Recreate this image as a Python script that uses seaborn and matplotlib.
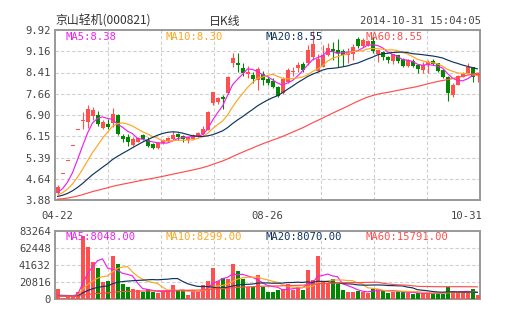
import numpy as np
import pandas as pd
import matplotlib
matplotlib.use("Agg")
import matplotlib.pyplot as plt
import seaborn as sns
from matplotlib.transforms import blended_transform_factory

# ---------------- data ----------------
open_ = [4.12, 4.79, 5.27, 5.79, 6.37, 6.70, 6.66, 6.88, 6.90, 6.45,
         6.58, 6.60, 6.89, 6.15, 6.11, 5.84, 5.95, 6.19, 6.02, 5.86,
         5.72, 5.92, 5.99, 6.04, 6.22, 6.15, 6.01, 6.05, 6.13, 6.22,
         6.37, 7.31, 7.35, 7.55, 7.69, 8.74, 8.76, 8.58, 8.36, 8.32,
         8.14, 8.35, 8.17, 8.12, 7.88, 7.67, 8.08, 8.42, 8.56, 8.72,
         8.74, 8.97, 8.48, 8.62, 9.03, 9.24, 9.21, 9.17, 9.03, 9.07,
         9.59, 9.35, 9.39, 9.54, 9.07, 9.15, 8.97, 8.83, 9.03, 8.89,
         8.64, 8.83, 8.68, 8.50, 8.68, 8.82, 8.74, 8.50, 8.26, 7.61,
         7.97, 8.26, 8.40, 8.59, 8.30]
high = [4.40, 4.79, 5.27, 5.79, 6.37, 7.01, 7.27, 7.20, 7.04, 6.72,
        6.75, 7.15, 6.92, 6.22, 6.21, 6.11, 6.12, 6.22, 6.12, 5.90,
        5.95, 6.05, 6.12, 6.34, 6.27, 6.18, 6.13, 6.22, 6.30, 6.51,
        7.04, 7.73, 7.55, 7.62, 8.28, 9.09, 9.09, 8.74, 8.64, 8.44,
        8.62, 8.46, 8.26, 8.20, 7.92, 8.26, 8.56, 8.60, 8.80, 8.80,
        9.39, 9.90, 9.08, 9.39, 9.45, 9.50, 9.60, 9.25, 9.27, 9.42,
        9.68, 9.62, 9.58, 9.68, 9.21, 9.16, 8.98, 9.08, 9.04, 8.92,
        8.88, 8.90, 8.70, 8.80, 8.86, 8.88, 8.76, 8.52, 8.28, 8.02,
        8.33, 8.42, 8.74, 8.60, 8.42]
low = [4.10, 4.79, 5.27, 5.79, 6.37, 6.40, 6.45, 6.72, 6.51, 6.40,
       6.40, 6.47, 6.20, 5.95, 5.80, 5.80, 5.93, 6.01, 5.78, 5.68,
       5.68, 5.88, 5.95, 6.02, 6.01, 5.95, 5.92, 6.02, 6.10, 6.20,
       6.35, 7.26, 7.30, 7.10, 7.66, 8.62, 8.44, 8.30, 8.20, 8.03,
       7.79, 7.97, 7.97, 7.85, 7.55, 7.65, 8.02, 8.28, 8.44, 8.44,
       8.68, 8.85, 8.44, 8.60, 9.00, 8.85, 8.62, 8.64, 8.76, 8.85,
       9.27, 9.33, 9.36, 9.09, 8.80, 8.85, 8.74, 8.71, 8.74, 8.60,
       8.62, 8.60, 8.38, 8.40, 8.38, 8.66, 8.44, 8.22, 7.41, 7.55,
       7.95, 8.24, 8.38, 8.08, 8.08]
close = [4.35, 4.79, 5.27, 5.79, 6.37, 6.74, 7.11, 7.08, 6.58, 6.66,
         6.47, 6.93, 6.22, 6.05, 5.95, 6.04, 6.09, 6.06, 5.81, 5.73,
         5.89, 6.01, 6.09, 6.19, 6.13, 6.05, 6.11, 6.19, 6.25, 6.39,
         7.02, 7.70, 7.52, 7.47, 8.26, 8.91, 8.68, 8.40, 8.43, 8.17,
         8.52, 8.14, 8.05, 7.88, 7.59, 8.17, 8.50, 8.48, 8.68, 8.50,
         9.21, 9.42, 8.88, 9.03, 9.27, 9.16, 9.09, 9.03, 9.11, 9.33,
         9.35, 9.56, 9.54, 9.19, 9.21, 8.95, 8.85, 9.07, 8.83, 8.64,
         8.85, 8.64, 8.55, 8.66, 8.78, 8.72, 8.46, 8.24, 7.67, 7.97,
         8.29, 8.40, 8.59, 8.26, 8.36]
volume = [12000, 1500, 2000, 2000, 9000, 77000, 63000, 45600, 38400, 20800,
          21600, 52900, 43200, 18000, 14400, 12000, 10800, 8800, 12800, 8000,
          6800, 9600, 8000, 16800, 10000, 10000, 4800, 10000, 8000, 16800,
          22000, 38400, 22000, 25200, 24000, 43200, 33600, 24800, 15200, 15200,
          28800, 15200, 8000, 8800, 11200, 12800, 18000, 11200, 15200, 11200,
          35200, 23200, 52900, 20800, 20000, 24000, 18000, 11200, 8800, 8800,
          10000, 8800, 7200, 12800, 12800, 9800, 7000, 9000, 9800, 8200,
          7000, 5800, 7000, 7000, 8000, 6100, 6100, 6100, 15000, 9500,
          7200, 7200, 7600, 12800, 5400]

# closes / volumes before the first shown day (needed by the moving averages)
prior_close = [3.86, 3.85, 3.87, 3.88, 3.86, 3.84, 3.85, 3.87, 3.88, 3.86,
               3.85, 3.84, 3.86, 3.87, 3.88, 3.86, 3.85, 3.86, 3.87, 3.85,
               3.84, 3.86, 3.88, 3.87, 3.86, 3.85, 3.87, 3.86, 3.85, 3.86,
               3.87, 3.88, 3.86, 3.85, 3.86, 3.87, 3.86, 3.85, 3.87, 3.86,
               3.93, 3.95, 3.94, 3.96, 3.97, 3.95, 3.96, 3.98, 3.97, 3.96,
               3.95, 3.97, 3.98, 3.96, 3.97, 4.08, 4.12, 4.10, 4.05]
prior_volume = [3200, 2900, 3100, 3000, 2800, 3300, 3100, 2900, 3000, 3200,
                2800, 3100, 3000, 2900, 3200, 3100, 3000, 2800, 3100, 3000,
                2900, 3200, 3100, 3000, 2800, 3000, 3100, 2900, 3000, 3200,
                3100, 2900, 3000, 3100, 2800, 3000, 3200, 3100, 2900, 3000,
                3100, 3000, 2900, 3200, 3100, 3000, 2800, 3100, 3000, 2900,
                3200, 3100, 3000, 2900, 3100, 3000, 3200, 2900, 3000]

ma_windows = [5, 10, 20, 60]
ma_colors = ["#F020F0", "#FFA520", "#0F3460", "#FF4D4D"]
price_ma_last = [8.38, 8.30, 8.55, 8.55]
volume_ma_last = [8048.00, 8299.00, 8070.00, 15791.00]

price_ticks = [3.88, 4.64, 5.39, 6.15, 6.90, 7.66, 8.41, 9.16, 9.92]
volume_ticks = [0, 20816, 41632, 62448, 83264]
date_labels = ["04-22", "08-26", "10-31"]
date_index = [0, 42, 84]

title_left = "京山轻机(000821)"
title_mid = "日K线"
title_right = "2014-10-31 15:04:05"

# ---------------- style ----------------
sns.set_style("white")
plt.rcParams["font.family"] = ["DejaVu Sans Mono", "Noto Sans CJK SC"]

UP = "#FF5050"
DOWN = "#008800"
GRID = "#CFCFCF"
SPINE = "#999999"
TXT = "#444444"

W, H = 505, 330
fig = plt.figure(figsize=(W / 100, H / 100), dpi=100)


def fx(px):
    return px / W


def fy(py):
    return 1 - py / H


axp = fig.add_axes([fx(55), fy(200), 425 / W, 170 / H])
axv = fig.add_axes([fx(55), fy(299), 425 / W, 68.3 / H])

n = len(close)
idx = np.arange(n)
o = np.array(open_)
c = np.array(close)
hi = np.array(high)
lo = np.array(low)
up = c >= o
cols = np.where(up, UP, DOWN)

# candles
axp.vlines(idx, lo, hi, colors=cols, linewidth=0.8, zorder=3)
body_b = np.minimum(o, c)
body_h = np.maximum(np.abs(c - o), 0.035)
axp.bar(idx, body_h, bottom=body_b, width=0.8, color=cols, linewidth=0, zorder=4)

# moving averages
cs = pd.Series(prior_close + close)
vs = pd.Series(prior_volume + volume)
for w, col in zip(ma_windows, ma_colors):
    ma = cs.rolling(w).mean().iloc[len(prior_close):].to_numpy()
    sns.lineplot(x=idx, y=ma, ax=axp, color=col, linewidth=0.85, zorder=5)
    vma = vs.rolling(w).mean().iloc[len(prior_volume):].to_numpy()
    sns.lineplot(x=idx, y=vma, ax=axv, color=col, linewidth=0.85, zorder=5)

# volume bars
axv.bar(idx, volume, width=0.8, color=cols, linewidth=0, zorder=3)

grid_x = [-0.5 + k * n / 8 for k in range(1, 8)]
for ax, yt, ylim in [(axp, price_ticks, (3.88, 9.92)),
                     (axv, volume_ticks, (0, 83264))]:
    ax.set_xlim(-0.5, n - 0.5)
    ax.set_ylim(*ylim)
    ax.set_yticks(yt)
    ax.set_xticks(grid_x)
    ax.set_xticklabels([])
    ax.set_axisbelow(True)
    ax.grid(True, color=GRID, linestyle=(0, (3, 2)), linewidth=0.8)
    ax.tick_params(length=0, pad=3, labelsize=7.6, labelcolor=TXT)
    for sp in ax.spines.values():
        sp.set_visible(True)
        sp.set_color(SPINE)
        sp.set_linewidth(1.4)
    ax.set_xlabel("")
    ax.set_ylabel("")

axp.set_yticklabels([f"{v:.2f}" for v in price_ticks])
axv.set_yticklabels([f"{v:d}" for v in volume_ticks])

# date labels
tr = blended_transform_factory(axp.transData, axp.transAxes)
for lab, i in zip(date_labels, date_index):
    ha = "center"
    x = i
    if i == n - 1:
        ha = "right"
        x = i + 1.1
    axp.text(x, -16 / 170, lab, transform=tr, ha=ha, va="center",
             fontsize=7.6, color=TXT)

# MA value labels
ma_x = [65, 165, 265, 365]
for w, col, v, x in zip(ma_windows, ma_colors, price_ma_last, ma_x):
    fig.text(fx(x), fy(37), f"MA{w}:{v:.2f}", color=col, fontsize=7.6,
             ha="left", va="center")
for w, col, v, x in zip(ma_windows, ma_colors, volume_ma_last, ma_x):
    fig.text(fx(x), fy(237), f"MA{w}:{v:.2f}", color=col, fontsize=7.6,
             ha="left", va="center")

# header
fig.text(fx(55), fy(21), title_left, fontsize=8.6, color="#333333",
         ha="left", va="center", family=["Noto Sans CJK SC", "DejaVu Sans"])
fig.text(fx(225), fy(21), title_mid, fontsize=8.6, color="#333333",
         ha="center", va="center", family=["Noto Sans CJK SC", "DejaVu Sans"])
fig.text(fx(481), fy(21), title_right, fontsize=7.6, color="#444444",
         ha="right", va="center")

fig.savefig("out.png", dpi=100)
